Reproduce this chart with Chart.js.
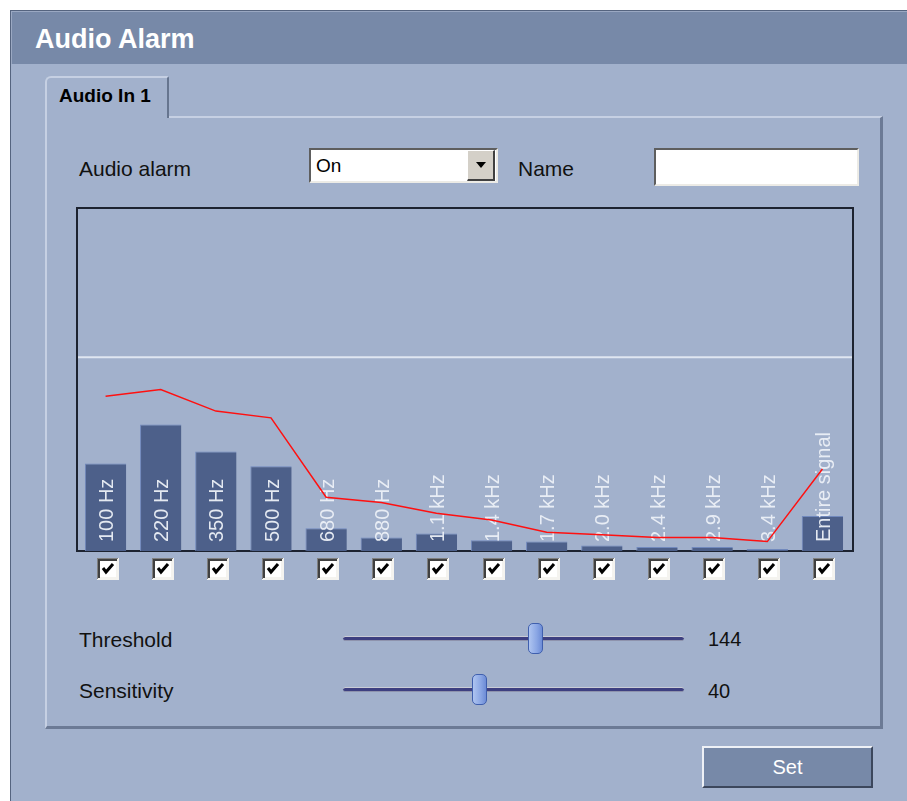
<!DOCTYPE html>
<html>
<head>
<meta charset="utf-8">
<script src="https://cdn.jsdelivr.net/npm/chart.js@4/dist/chart.umd.min.js"></script>
<style>
body { margin: 0; width: 907px; height: 801px; overflow: hidden; background: #fff;
  font-family: "Liberation Sans", Arial, sans-serif; position: relative; }
.abs { position: absolute; }
#bg { left: 10px; top: 10px; width: 897px; height: 791px; background: #a2b1cc;
  border-left: 1px solid #55647f; border-top: 1px solid #55647f; box-sizing: border-box; }
#header { left: 11px; top: 11px; width: 896px; height: 53px; background: #7789a8;
  border-top: 1px solid #9aa8c2; border-left: 1px solid #9aa8c2; box-sizing: border-box; }
#title { left: 35px; top: 26px; font-size: 27px; line-height: 27px; font-weight: bold; color: #fff; }
#panel { left: 45px; top: 116px; width: 838px; height: 613px; box-sizing: border-box;
  border-left: 2px solid #c6d0e3; border-top: 2px solid #c6d0e3;
  border-right: 3px solid #6c7a95; border-bottom: 3px solid #6c7a95; }
#tab { left: 45px; top: 76px; width: 124px; height: 42px; box-sizing: border-box; background: #a2b1cc;
  border-left: 2px solid #c6d0e3; border-top: 2px solid #c6d0e3; border-right: 2px solid #66758f;
  border-top-left-radius: 6px; border-top-right-radius: 2px; }
#tabText { left: 59px; top: 86px; font-size: 19px; line-height: 19px; font-weight: bold; color: #000; }
.lbl { font-size: 21px; line-height: 21px; color: #111; }
.val { font-size: 20px; line-height: 20px; color: #111; }
#select { left: 309px; top: 148px; width: 189px; height: 35px; background: #fff; box-sizing: border-box;
  border-top: 2px solid #5e5e5e; border-left: 2px solid #5e5e5e;
  border-right: 2px solid #ecebe6; border-bottom: 2px solid #ecebe6; }
#selText { left: 316px; top: 156px; font-size: 19px; line-height: 19px; color: #000; }
#ddBtn { left: 467px; top: 150px; width: 28px; height: 31px; background: #d4d0c8; box-sizing: border-box;
  border-top: 1px solid #fff; border-left: 1px solid #fff;
  border-right: 2px solid #404040; border-bottom: 2px solid #404040; }
#ddArrow { left: 476px; top: 162px; width: 0; height: 0;
  border-left: 5px solid transparent; border-right: 5px solid transparent; border-top: 6px solid #000; }
#nameBox { left: 654px; top: 148px; width: 205px; height: 38px; background: #fff; box-sizing: border-box;
  border-top: 2px solid #5e5e5e; border-left: 2px solid #5e5e5e;
  border-right: 2px solid #ecebe6; border-bottom: 2px solid #ecebe6; }
.track { left: 343px; width: 341px; height: 5px; box-sizing: border-box; border-radius: 3px;
  background: #3d3f80; border-top: 1px solid #c9ccd6; border-bottom: 1px solid #8e93ad; }
.thumb { width: 15px; height: 31px; box-sizing: border-box; border-radius: 5px;
  border: 1px solid #3f5fae; background: linear-gradient(to right, #aec4f0, #8aa6e4 60%, #6d8cd6); }
#setBtn { left: 702px; top: 746px; width: 171px; height: 42px; background: #7789a8; box-sizing: border-box;
  border-top: 2px solid #eef1f6; border-left: 2px solid #eef1f6;
  border-right: 2px solid #3c475c; border-bottom: 2px solid #3c475c; }
#setText { left: 702px; top: 757px; width: 171px; text-align: center; font-size: 20px; line-height: 20px; color: #fff; }
#chartBox { left: 60px; top: 195px; width: 800px; height: 395px; }
</style>
</head>
<body>
<div id="bg" class="abs"></div>
<div id="header" class="abs"></div>
<div id="title" class="abs">Audio Alarm</div>
<div id="panel" class="abs"></div>
<div id="tab" class="abs"></div>
<div id="tabText" class="abs">Audio In 1</div>

<div class="abs lbl" style="left:79px; top:158px;">Audio alarm</div>
<div id="select" class="abs"></div>
<div id="selText" class="abs">On</div>
<div id="ddBtn" class="abs"></div>
<div id="ddArrow" class="abs"></div>
<div class="abs lbl" style="left:518px; top:158px;">Name</div>
<div id="nameBox" class="abs"></div>

<div id="chartBox" class="abs"><canvas id="audioChart" width="800" height="395"></canvas></div>

<div class="abs lbl" style="left:79px; top:629px;">Threshold</div>
<div class="abs track" style="top:636px;"></div>
<div id="thThumb" class="abs thumb" style="top:623px;"></div>
<div id="thVal" class="abs val" style="left:708px; top:629px;"></div>

<div class="abs lbl" style="left:79px; top:680px;">Sensitivity</div>
<div class="abs track" style="top:687px;"></div>
<div id="seThumb" class="abs thumb" style="top:674px;"></div>
<div id="seVal" class="abs val" style="left:708px; top:681px;"></div>

<div id="setBtn" class="abs"></div>
<div id="setText" class="abs">Set</div>

<script>
// Band labels and levels (0..255 scale)
var bandLabels = ["100 Hz", "220 Hz", "350 Hz", "500 Hz", "680 Hz", "880 Hz", "1.1 kHz",
	"1.4 kHz", "1.7 kHz", "2.0 kHz", "2.4 kHz", "2.9 kHz", "3.4 kHz", "Entire signal"];
var levelValues = [65, 94, 74, 63, 17, 10, 13, 8, 7, 4, 3, 3, 1.5, 26];
var peakValues = [115, 120, 104, 99, 40, 36, 28, 23, 14, 12, 10, 10, 7, 61];
var bandEnabled = [true, true, true, true, true, true, true, true, true, true, true, true, true, true];
var levelMax = 255;
var threshold = 144;
var sensitivity = 40;
var sensitivityMax = 100;

// Slider thumbs
var trackLeft = 343, trackWidth = 341;
function placeThumb(id, value, max) {
	var el = document.getElementById(id);
	el.style.left = (trackLeft + trackWidth * value / max - 7.5) + "px";
}
placeThumb("thThumb", threshold, levelMax);
placeThumb("seThumb", sensitivity, sensitivityMax);
document.getElementById("thVal").textContent = threshold;
document.getElementById("seVal").textContent = sensitivity;

// Frame and threshold line
var framePlugin = {
	id: "frame",
	beforeDatasetsDraw: function(chart) {
		var ctx = chart.ctx, a = chart.chartArea;
		var y = chart.scales.y.getPixelForValue(threshold);
		ctx.save();
		ctx.strokeStyle = "#dfe6f1";
		ctx.lineWidth = 2;
		ctx.beginPath();
		ctx.moveTo(a.left - 1, y);
		ctx.lineTo(a.right + 2, y);
		ctx.stroke();
		ctx.strokeStyle = "#1d2330";
		ctx.lineWidth = 2;
		ctx.strokeRect(a.left - 1, a.top, a.right - a.left + 4, a.bottom - a.top);
		ctx.restore();
	}
};

// Rotated band names over the bars
var bandLabelPlugin = {
	id: "bandLabels",
	afterDatasetDraw: function(chart, args) {
		if (args.index !== 1) return;
		var ctx = chart.ctx, xs = chart.scales.x, bottom = chart.chartArea.bottom;
		ctx.save();
		ctx.font = "20px 'Liberation Sans', Arial, sans-serif";
		ctx.fillStyle = "rgba(236,240,247,0.95)";
		ctx.textAlign = "left";
		ctx.textBaseline = "alphabetic";
		bandLabels.forEach(function(label, i) {
			ctx.save();
			ctx.translate(xs.getPixelForValue(i) + 7.5, bottom - 9);
			ctx.rotate(-Math.PI / 2);
			ctx.fillText(label, 0, 0);
			ctx.restore();
		});
		ctx.restore();
	}
};

// Checkboxes under each band
var checkboxPlugin = {
	id: "checkboxes",
	afterDraw: function(chart) {
		var ctx = chart.ctx, xs = chart.scales.x;
		var cy = chart.chartArea.bottom + 18;
		ctx.save();
		bandEnabled.forEach(function(on, i) {
			var cx = Math.round(xs.getPixelForValue(i)) + 2;
			var x = cx - 11, y = cy - 11;
			ctx.fillStyle = "#f4f3ef";
			ctx.fillRect(x, y, 22, 22);
			ctx.fillStyle = "#808080";
			ctx.fillRect(x, y, 21, 1);
			ctx.fillRect(x, y, 1, 21);
			ctx.fillStyle = "#404040";
			ctx.fillRect(x + 1, y + 1, 19, 2);
			ctx.fillRect(x + 1, y + 1, 2, 19);
			ctx.fillStyle = "#ffffff";
			ctx.fillRect(x + 3, y + 3, 16, 16);
			if (on) {
				ctx.strokeStyle = "#000";
				ctx.lineWidth = 3;
				ctx.beginPath();
				ctx.moveTo(cx - 5, cy - 1);
				ctx.lineTo(cx - 2, cy + 3);
				ctx.lineTo(cx + 5, cy - 5);
				ctx.stroke();
			}
		});
		ctx.restore();
	}
};

var chart = new Chart(document.getElementById("audioChart").getContext("2d"), {
	type: "bar",
	data: {
		labels: bandLabels,
		datasets: [{
			type: "line",
			data: peakValues,
			borderColor: "#ff1010",
			borderWidth: 1.5,
			pointRadius: 0,
			tension: 0,
			fill: false,
			order: 0
		}, {
			type: "bar",
			data: levelValues,
			backgroundColor: "#4d608a",
			borderColor: "#7189bd",
			borderWidth: { top: 1, left: 1, right: 0, bottom: 0 },
			borderSkipped: false,
			barPercentage: 0.75,
			categoryPercentage: 1,
			order: 1
		}]
	},
	options: {
		animation: false,
		responsive: false,
		events: [],
		layout: { padding: { left: 18, right: 10, top: 13, bottom: 39 } },
		plugins: { legend: { display: false }, tooltip: { enabled: false } },
		scales: {
			x: { display: false, offset: true },
			y: { display: false, min: 0, max: levelMax }
		}
	},
	plugins: [framePlugin, bandLabelPlugin, checkboxPlugin]
});
</script>
</body>
</html>
